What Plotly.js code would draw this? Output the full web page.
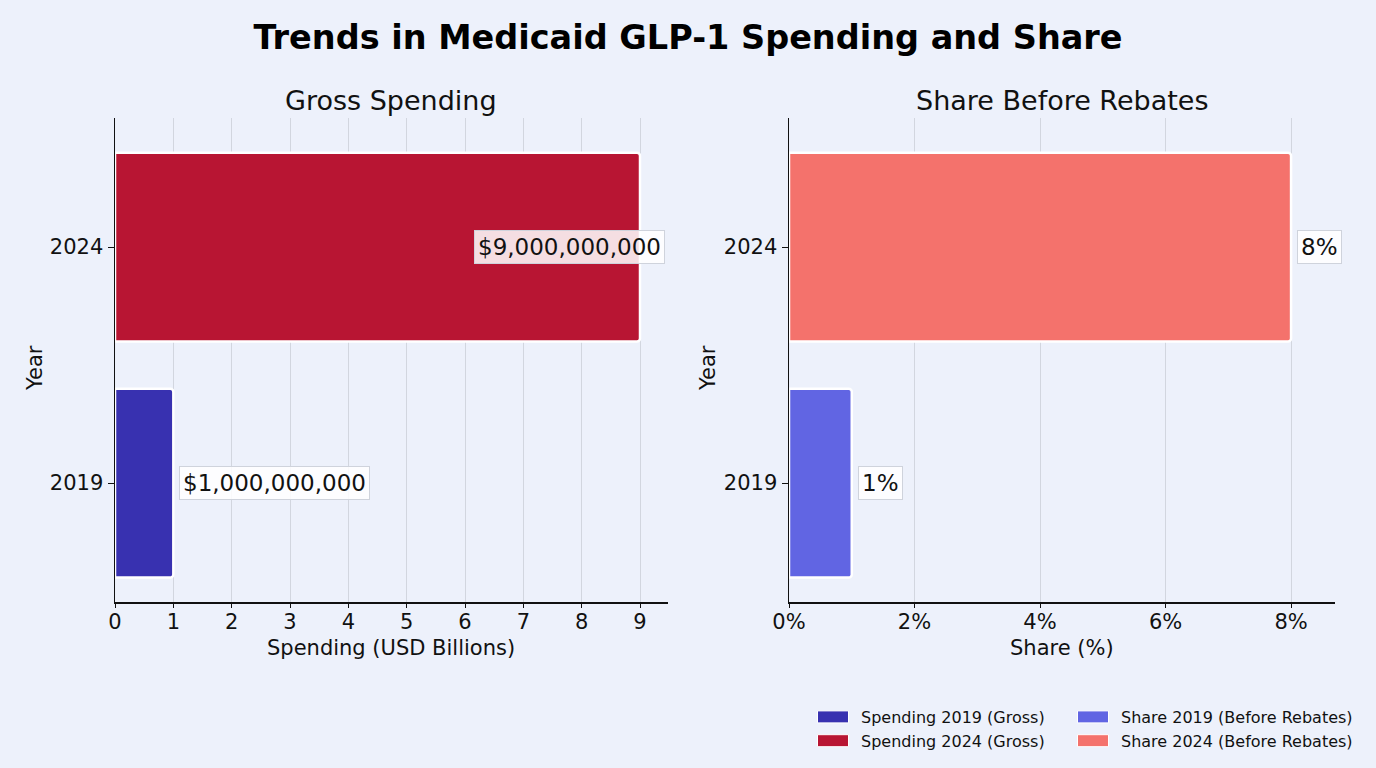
<!DOCTYPE html>
<html>
<head>
<meta charset="utf-8">
<script src="https://cdn.plot.ly/plotly-3.0.1.min.js"></script>
<style>
  html, body { margin: 0; padding: 0; background: #edf1fb; }
  #chart { width: 1376px; height: 768px; }
  .plot .bars path { filter: drop-shadow(0 1px 4px rgba(70, 80, 130, 0.28)); }
</style>
</head>
<body>
<div id="chart"></div>
<script>
// Medicaid GLP-1 spending (USD billions) and share of spending before rebates (%)
const years = ['2019', '2024'];
const spendingBillions = [1, 9];
const sharePercent = [1, 8];

const spendingNames = ['Spending 2019 (Gross)', 'Spending 2024 (Gross)'];
const shareNames = ['Share 2019 (Before Rebates)', 'Share 2024 (Before Rebates)'];

const spendingColors = ['#3831b0', '#b81533'];
const shareColors = ['#6165e3', '#f4726c'];

const W = 1376, H = 768;
const FONT = 'DejaVu Sans, Liberation Sans, sans-serif';
const BG = '#edf1fb';

const leftDomain = [115 / W, 668 / W];
const rightDomain = [789 / W, 1335 / W];
const yDomain = [1 - 602 / H, 1 - 118 / H];
const spendRange = [0, 9.48];
const shareRange = [0, 8.7];
const catRange = [-0.504, 1.547];

const traces = [];
years.forEach((yr, i) => {
  traces.push({
    type: 'bar', orientation: 'h',
    x: [spendingBillions[i]], y: [yr],
    name: spendingNames[i],
    xaxis: 'x', yaxis: 'y', width: 0.8,
    marker: { color: spendingColors[i], line: { color: '#ffffff', width: 2.5 }, cornerradius: 3 },
    legend: 'legend', hoverinfo: 'skip'
  });
});
years.forEach((yr, i) => {
  traces.push({
    type: 'bar', orientation: 'h',
    x: [sharePercent[i]], y: [yr],
    name: shareNames[i],
    xaxis: 'x2', yaxis: 'y2', width: 0.8,
    marker: { color: shareColors[i], line: { color: '#ffffff', width: 2.5 }, cornerradius: 3 },
    legend: 'legend2', hoverinfo: 'skip'
  });
});

// Value labels: placed just past the bar end, or pulled inside the axis when there is no room
function valueLabel(value, text, xref, yref, catIndex, domain, range) {
  const pxPerUnit = (domain[1] - domain[0]) * W / (range[1] - range[0]);
  const roomPx = (range[1] - value) * pxPerUnit;
  const estWidth = text.length * 13 + 8;
  const fits = roomPx > estWidth + 4;
  return {
    x: fits ? value : range[1], y: catIndex, xref: xref, yref: yref,
    text: text, showarrow: false,
    xanchor: fits ? 'left' : 'right', xshift: fits ? 6 : -3,
    yanchor: 'middle',
    font: { family: FONT, size: 23, color: '#111111' },
    bgcolor: 'rgba(255,255,255,0.86)', bordercolor: '#cfd3dc', borderwidth: 1, borderpad: 3
  };
}

const annotations = [];
years.forEach((yr, i) => {
  const txt = '$' + (spendingBillions[i] * 1e9).toLocaleString('en-US');
  annotations.push(valueLabel(spendingBillions[i], txt, 'x', 'y', i, leftDomain, spendRange));
  annotations.push(valueLabel(sharePercent[i], sharePercent[i] + '%', 'x2', 'y2', i, rightDomain, shareRange));
});

// Panel titles and axis titles
const panelTitleFont = { family: FONT, size: 27, color: '#111111' };
const axisTitleFont = { family: FONT, size: 21, color: '#111111' };
annotations.push(
  { text: 'Gross Spending', xref: 'paper', yref: 'paper', x: (leftDomain[0] + leftDomain[1]) / 2, y: 1 - 100 / H,
    showarrow: false, font: panelTitleFont, xanchor: 'center', yanchor: 'middle' },
  { text: 'Share Before Rebates', xref: 'paper', yref: 'paper', x: (rightDomain[0] + rightDomain[1]) / 2, y: 1 - 100 / H,
    showarrow: false, font: panelTitleFont, xanchor: 'center', yanchor: 'middle' },
  { text: 'Spending (USD Billions)', xref: 'paper', yref: 'paper', x: (leftDomain[0] + leftDomain[1]) / 2, y: 1 - 648 / H,
    showarrow: false, font: axisTitleFont, xanchor: 'center', yanchor: 'middle' },
  { text: 'Share (%)', xref: 'paper', yref: 'paper', x: (rightDomain[0] + rightDomain[1]) / 2, y: 1 - 648 / H,
    showarrow: false, font: axisTitleFont, xanchor: 'center', yanchor: 'middle' },
  { text: 'Year', xref: 'paper', yref: 'paper', x: 35 / W, y: 1 - 368 / H, textangle: -90,
    showarrow: false, font: axisTitleFont, xanchor: 'center', yanchor: 'middle' },
  { text: 'Year', xref: 'paper', yref: 'paper', x: 708 / W, y: 1 - 368 / H, textangle: -90,
    showarrow: false, font: axisTitleFont, xanchor: 'center', yanchor: 'middle' }
);

const tickFont = { family: FONT, size: 21, color: '#111111' };
const xCommon = {
  showgrid: true, gridcolor: '#d2d6df', gridwidth: 1,
  showline: true, linecolor: '#111111', linewidth: 1.5,
  ticks: 'outside', ticklen: 4, tickcolor: '#111111',
  ticklabelstandoff: -4,
  tickfont: tickFont, zeroline: false, fixedrange: true
};
const yCommon = {
  type: 'category', categoryorder: 'array', categoryarray: years,
  range: catRange, showgrid: false,
  showline: true, linecolor: '#111111', linewidth: 1.5,
  ticks: 'outside', ticklen: 6, tickcolor: '#111111',
  tickfont: tickFont, zeroline: false, fixedrange: true
};

const legendCommon = {
  orientation: 'v', yanchor: 'top', xanchor: 'left',
  bgcolor: 'rgba(0,0,0,0)', borderwidth: 0,
  font: { family: FONT, size: 16, color: '#111111' },
  itemwidth: 46, tracegroupgap: 0
};

const layout = {
  width: W, height: H,
  paper_bgcolor: BG, plot_bgcolor: BG,
  margin: { l: 0, r: 0, t: 0, b: 0 },
  barmode: 'overlay',
  title: {
    text: '<b>Trends in Medicaid GLP-1 Spending and Share</b>',
    font: { family: FONT, size: 33.5, color: '#000000' },
    x: 0.5, xanchor: 'center', y: 1 - 37 / H, yanchor: 'middle'
  },
  xaxis: Object.assign({}, xCommon, { domain: leftDomain, range: spendRange, dtick: 1, tick0: 0, anchor: 'y' }),
  yaxis: Object.assign({}, yCommon, { domain: yDomain, anchor: 'x' }),
  xaxis2: Object.assign({}, xCommon, { domain: rightDomain, range: shareRange, dtick: 2, tick0: 0, ticksuffix: '%', anchor: 'y2' }),
  yaxis2: Object.assign({}, yCommon, { domain: yDomain, anchor: 'x2' }),
  legend: Object.assign({}, legendCommon, { x: 805 / W, y: 1 - 700 / H }),
  legend2: Object.assign({}, legendCommon, { x: 1065 / W, y: 1 - 700 / H }),
  annotations: annotations,
  showlegend: true
};

Plotly.newPlot('chart', traces, layout, { displayModeBar: false, staticPlot: true }).then(gd => {
  // widen the legend swatches (both legends) into flat rectangles
  gd.querySelectorAll('.legendpoints path').forEach(p => {
    p.setAttribute('d', 'M15.5,6H-15.5V-6H15.5Z');
    p.style.strokeWidth = '1px';
  });
});
</script>
</body>
</html>
